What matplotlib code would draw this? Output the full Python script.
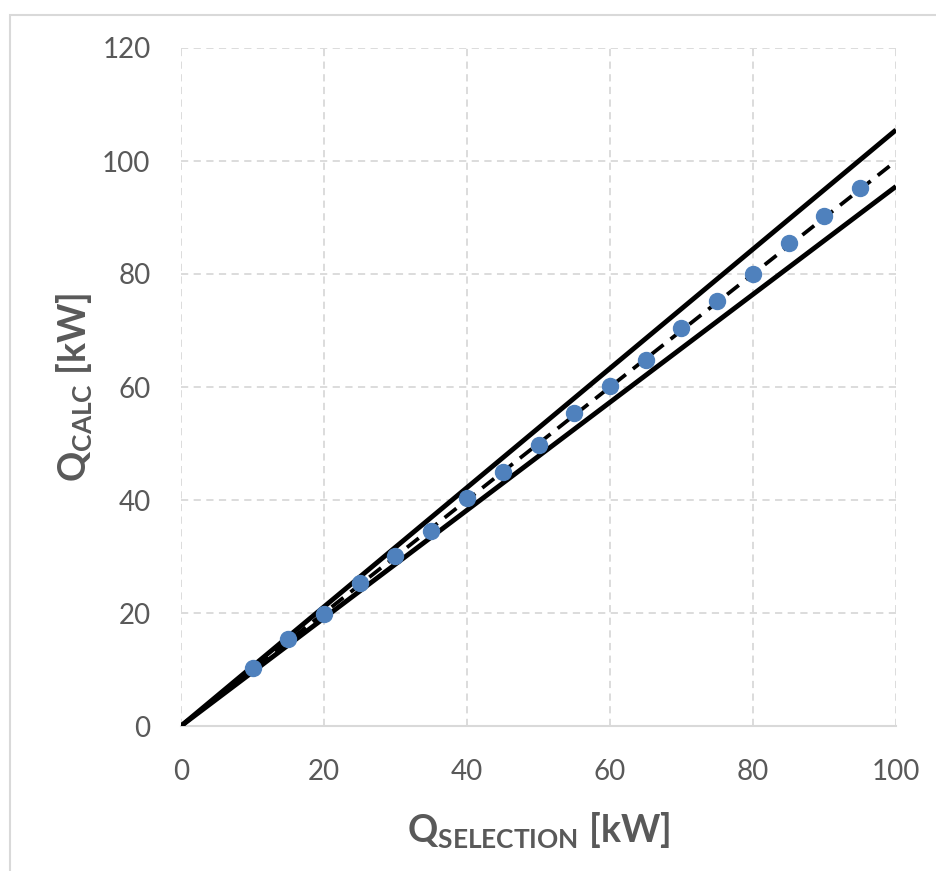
import matplotlib.pyplot as plt
import matplotlib.patches as mpatches
import numpy as np

plt.rcParams['font.family'] = ['Lato', 'DejaVu Sans']
plt.rcParams['mathtext.fontset'] = 'custom'
plt.rcParams['mathtext.rm'] = 'Lato'
plt.rcParams['mathtext.bf'] = 'Lato:bold'

# measured points
q_selection = [10, 15, 20, 25, 30, 35, 40, 45, 50, 55, 60, 65, 70, 75, 80, 85, 90, 95]
q_calc = [10.3, 15.4, 19.8, 25.3, 30.1, 34.5, 40.3, 45.0, 49.7, 55.4,
          60.2, 64.8, 70.4, 75.2, 80.0, 85.5, 90.3, 95.2]

# reference lines: y = x and +/- 5 %
ref_x = [0, 100]
ref_mid = [0, 100]
ref_upper = [0, 105.5]
ref_lower = [0, 95.5]

x_ticks = [0, 20, 40, 60, 80, 100]
y_ticks = [0, 20, 40, 60, 80, 100, 120]

grey = '#595959'
grid_col = '#D9D9D9'

fig = plt.figure(figsize=(9.36, 8.71), dpi=100)
ax = fig.add_axes([181 / 936, 1 - 726 / 871, 715 / 936, 678 / 871])

# chart border (Excel-style)
fig.patches.append(mpatches.Rectangle((10 / 936, -0.1), 1.1, 1 - 15 / 871 + 0.1,
                                      transform=fig.transFigure, fill=False,
                                      edgecolor=grid_col, lw=1.5))

ax.plot(ref_x, ref_upper, color='black', lw=3.5, solid_capstyle='butt', zorder=3)
ax.plot(ref_x, ref_lower, color='black', lw=3.5, solid_capstyle='butt', zorder=3)
ax.plot(ref_x, ref_mid, color='black', lw=2.7, dashes=(4, 2.4), zorder=3)
ax.plot(q_selection, q_calc, 'o', color='#4F81BD', ms=11.5, mec='#4F81BD', zorder=4)

ax.set_xlim(0, 100)
ax.set_ylim(0, 120)
ax.set_xticks(x_ticks)
ax.set_yticks(y_ticks)
ax.grid(True, color=grid_col, ls=(0, (4, 3)), lw=1.3)
ax.set_axisbelow(True)
for s in ['top', 'right', 'left']:
    ax.spines[s].set_visible(False)
ax.spines['bottom'].set_color(grid_col)
ax.spines['bottom'].set_linewidth(1.5)
ax.tick_params(length=0, labelsize=20, colors=grey)
ax.tick_params(axis='x', pad=24)
ax.tick_params(axis='y', pad=22)

ax.set_xlabel(r'$\mathbf{Q_{SELECTION}}$ [kW]', fontsize=27, fontweight='bold',
              color=grey, labelpad=18)
ax.set_ylabel(r'$\mathbf{Q_{CALC}}$ [kW]', fontsize=27, fontweight='bold',
              color=grey)
ax.yaxis.set_label_coords(-0.122, 0.5)

fig.savefig('out.png', dpi=100)
